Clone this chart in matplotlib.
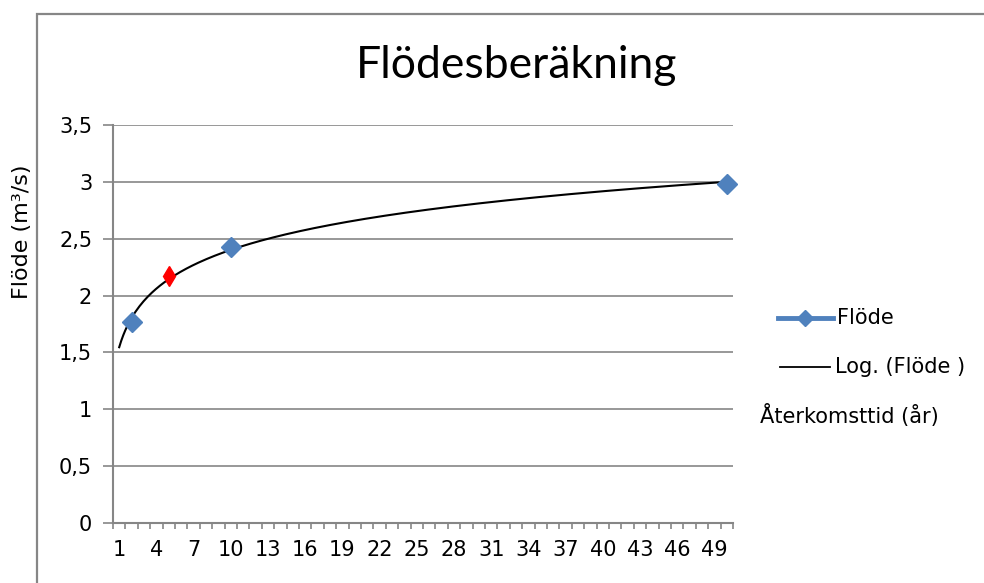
import numpy as np
import matplotlib
matplotlib.use("Agg")
from matplotlib import pyplot as plt
from matplotlib.patches import Rectangle

plt.rcParams['font.family'] = ['DejaVu Sans']

# Data (återkomsttid i år, flöde i m3/s)
ar = [2, 5, 10, 50]
flode = [1.77, 2.175, 2.425, 2.98]
markerad = 5  # punkten som ritas i rött
ytick_varden = [0, 0.5, 1, 1.5, 2, 2.5, 3, 3.5]
ytick_text = ["0", "0,5", "1", "1,5", "2", "2,5", "3", "3,5"]
xtick_varden = list(range(1, 51, 3))

BLA = "#4F81BD"
GRA = "#868686"
FS = 15

fig = plt.figure(figsize=(9.84, 5.83), dpi=100)
W, H = 984, 583
ax = fig.add_axes([113 / W, 1 - 523 / H, 620 / W, 398 / H])

# Ram runt diagramytan
fig.patches.append(Rectangle((36.5 / W, -0.1), 1.2, 1 - 13.5 / H + 0.1,
                             transform=fig.transFigure, fill=False,
                             edgecolor=GRA, linewidth=1.6))

# Logaritmisk trendlinje anpassad till data
a, b = np.polyfit(np.log(ar), flode, 1)
xs = np.linspace(1, 50, 300)
ax.plot(xs, a * np.log(xs) + b, color="black", linewidth=1.5, zorder=3)

# Serien
bla_x = [x for x in ar if x != markerad]
bla_y = [y for x, y in zip(ar, flode) if x != markerad]
ax.plot(bla_x, bla_y, linestyle="none", marker="D", markersize=10.5,
        color=BLA, zorder=4, clip_on=False)
ax.plot([markerad], [flode[ar.index(markerad)]], linestyle="none", marker="d",
        markersize=10.5, color="red", zorder=4)

ax.set_xlim(0.5, 50.5)
ax.set_ylim(0, 3.5)
ax.set_yticks(ytick_varden)
ax.set_yticklabels(ytick_text)
ax.set_xticks(xtick_varden)
ax.set_xticklabels([str(v) for v in xtick_varden])
ax.set_xticks(np.arange(0.5, 51, 1), minor=True)

ax.grid(axis="y", color=GRA, linewidth=1.2)
ax.set_axisbelow(True)
for s in ["top", "right"]:
    ax.spines[s].set_visible(False)
for s in ["left", "bottom"]:
    ax.spines[s].set_color(GRA)
    ax.spines[s].set_linewidth(1.5)

ax.tick_params(axis="y", direction="out", length=7, width=1.2, color=GRA,
               pad=8, labelsize=FS)
ax.tick_params(axis="x", which="major", length=0, pad=12, labelsize=FS)
ax.tick_params(axis="x", which="minor", direction="out", length=4, width=1.2,
               color=GRA)

ax.set_ylabel("Flöde (m³/s)", fontsize=16, va="center")
ax.yaxis.set_label_coords((22 - 113) / 620, (523 - 232) / 398)
fig.text(517 / W, 1 - 65 / H, "Flödesberäkning", fontsize=32,
         family="Lato", ha="center", va="center")

# Förklaring
fig.lines.append(plt.Line2D([778 / W, 833 / W], [1 - 318 / H] * 2,
                            transform=fig.transFigure, color=BLA, linewidth=3.5))
fig.lines.append(plt.Line2D([805 / W], [1 - 318 / H], transform=fig.transFigure,
                            color=BLA, marker="D", markersize=8))
fig.text(837 / W, 1 - 318 / H, "Flöde", fontsize=FS, va="center")
fig.lines.append(plt.Line2D([780 / W, 830 / W], [1 - 367 / H] * 2,
                            transform=fig.transFigure, color="black", linewidth=1.3))
fig.text(835 / W, 1 - 367 / H, "Log. (Flöde )", fontsize=FS, va="center")
fig.text(760 / W, 1 - 416 / H, "Återkomsttid (år)", fontsize=FS, va="center")

fig.savefig("out.png", dpi=100)
